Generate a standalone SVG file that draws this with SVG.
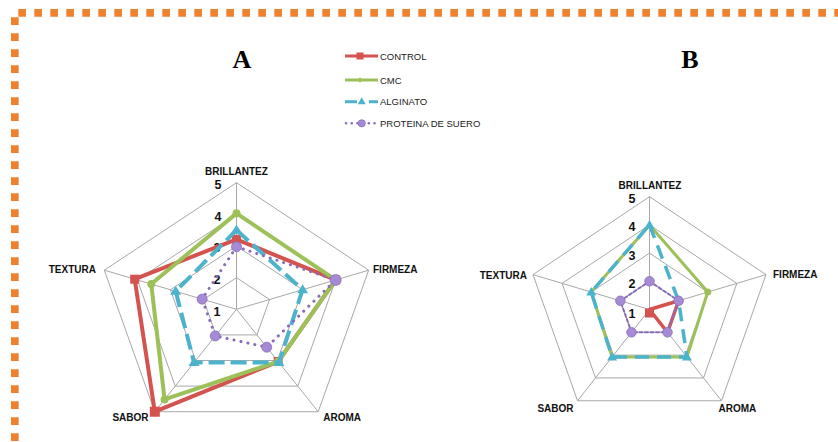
<svg xmlns="http://www.w3.org/2000/svg" width="838" height="442" viewBox="0 0 838 442">
<style>
.grid{fill:none;stroke:#A8A8A8;stroke-width:1}
.ax{font-family:"Liberation Sans",Arial,sans-serif;font-weight:bold;font-size:10px;fill:#111}
.num{font-family:"Liberation Sans",Arial,sans-serif;font-weight:bold;font-size:12.5px;fill:#111;text-anchor:middle}
.leg{font-family:"Liberation Sans",Arial,sans-serif;font-size:9.5px;fill:#222}
.ttl{font-family:"Liberation Serif","Times New Roman",serif;font-weight:bold;font-size:26px;fill:#000;text-anchor:middle}
.red{fill:none;stroke:#D5534E;stroke-linejoin:round}
.grn{fill:none;stroke:#9CC158;stroke-linejoin:round}
.cya{fill:none;stroke:#4BB4CC}
.pur{fill:none;stroke:#8A6DB8;stroke-linecap:round}
.mr{fill:#D5534E}
.mg{fill:#9CC158}
.mc{fill:#4BB4CC}
.mp{fill:#A58AD6;stroke:#8A6DB8;stroke-width:0.8}
</style>
<g id="border" fill="none" stroke="#F0812F" stroke-width="7.7">
<line x1="18.3" y1="12.8" x2="838" y2="12.8" stroke-dasharray="7.7 8.3"/>
<line x1="14.8" y1="17.3" x2="14.8" y2="442" stroke-dasharray="7.7 8.3"/>
</g>
<g id="titles">
<text class="ttl" x="242" y="68">A</text>
<text class="ttl" x="690" y="68">B</text>
</g>
<g id="legend">
<line x1="345" y1="56" x2="378" y2="56" class="red" stroke-width="3"/>
<rect x="356.5" y="52.5" width="7" height="7" class="mr"/>
<text class="leg" x="380" y="59.5">CONTROL</text>
<line x1="345" y1="80" x2="378" y2="80" class="grn" stroke-width="3"/>
<rect x="358" y="78" width="4" height="4" class="mg" transform="rotate(45 360 80)"/>
<text class="leg" x="380" y="83.5">CMC</text>
<line x1="345" y1="101.7" x2="378" y2="101.7" class="cya" stroke-width="3" stroke-dasharray="12 4 0 8 12"/>
<polygon points="361.7,97.2 365.7,104.2 357.7,104.2" class="mc"/>
<text class="leg" x="380" y="105.2">ALGINATO</text>
<line x1="346" y1="123.3" x2="378" y2="123.3" class="pur" stroke-width="2.5" stroke-dasharray="0.1 5.6"/>
<circle cx="361.7" cy="123.3" r="3.6" class="mp"/>
<text class="leg" x="380" y="126.8">PROTEINA DE SUERO</text>
</g>
<g id="chartA">
<g id="gridA" class="grid">
<polygon points="236.5,182.7 368.7,270.18 318.2,411.72 154.8,411.72 104.3,270.18"/>
<polygon points="236.5,214.35 335.65,279.96 297.78,386.12 175.22,386.12 137.35,279.96"/>
<polygon points="236.5,246 302.6,289.74 277.35,360.51 195.65,360.51 170.4,289.74"/>
<polygon points="236.5,277.65 269.55,299.52 256.93,334.9 216.07,334.9 203.45,299.52"/>
<path d="M236.5,309.3L236.5,182.7M236.5,309.3L368.7,270.18M236.5,309.3L318.2,411.72M236.5,309.3L154.8,411.72M236.5,309.3L104.3,270.18"/>
</g>
<g id="labelsA">
<text class="ax" x="236.5" y="175" text-anchor="middle">BRILLANTEZ</text>
<text class="ax" x="373" y="272.5">FIRMEZA</text>
<text class="ax" x="323.3" y="420.5">AROMA</text>
<text class="ax" x="148.5" y="420.5" text-anchor="end">SABOR</text>
<text class="ax" x="96" y="272.5" text-anchor="end">TEXTURA</text>
<text class="num" x="218" y="189">5</text>
<text class="num" x="218" y="221">4</text>
<text class="num" x="217" y="252">3</text>
<text class="num" x="217" y="284">2</text>
<text class="num" x="217" y="316">1</text>
</g>
<g id="seriesA">
<polygon class="red" stroke-width="4" points="236.5,239.3 335.65,279.96 278.17,361.53 154.8,411.72 134.71,279.18"/>
<g class="mr">
<rect x="232" y="234.8" width="9" height="9"/><rect x="331.15" y="275.46" width="9" height="9"/><rect x="273.67" y="357.03" width="9" height="9"/><rect x="149.8" y="406.72" width="10" height="10"/><rect x="130.21" y="274.68" width="9" height="9"/>
</g>
<polygon class="grn" stroke-width="4" points="236.5,213.34 335.65,279.96 278.17,361.53 164.6,399.43 151.23,284.07"/>
<g class="mg">
<circle cx="236.5" cy="213.34" r="4"/><circle cx="335.65" cy="279.96" r="4"/><circle cx="278.17" cy="361.53" r="4"/><circle cx="164.6" cy="399.43" r="4"/><circle cx="151.23" cy="284.07" r="4"/>
</g>
<polygon class="cya" stroke-width="4" stroke-dasharray="16 6" points="236.5,230.05 302.6,289.74 278.98,362.56 194.02,362.56 175.69,291.3"/>
<g class="mc">
<polygon points="236.5,224.5 242,233.5 231,233.5"/><polygon points="302.6,284.2 308.1,293.2 297.1,293.2"/><polygon points="278.98,357 284.48,366 273.48,366"/><polygon points="194.02,357 199.52,366 188.52,366"/><polygon points="175.69,285.8 181.19,294.8 170.19,294.8"/>
</g>
<polygon class="pur" stroke-width="3" stroke-dasharray="0.1 7" points="236.5,246.76 335.65,279.96 266.73,347.2 215.26,335.93 202.13,299.13"/>
<g class="mp">
<circle cx="236.5" cy="246.76" r="5"/><circle cx="335.65" cy="279.96" r="5.5"/><circle cx="266.73" cy="347.2" r="5"/><circle cx="215.26" cy="335.93" r="5"/><circle cx="202.13" cy="299.13" r="5"/>
</g>
</g>
</g>
<g id="chartB">
<g id="gridB" class="grid">
<polygon points="649.5,196.7 766,274.64 721.5,400.76 577.5,400.76 533,274.64"/>
<polygon points="649.5,224.9 736.88,283.35 703.5,377.95 595.5,377.95 562.12,283.35"/>
<polygon points="649.5,253.1 707.75,292.07 685.5,355.13 613.5,355.13 591.25,292.07"/>
<polygon points="649.5,281.3 678.63,300.78 667.5,332.32 631.5,332.32 620.37,300.78"/>
<path d="M649.5,309.5L649.5,196.7M649.5,309.5L766,274.64M649.5,309.5L721.5,400.76M649.5,309.5L577.5,400.76M649.5,309.5L533,274.64"/>
</g>
<g id="labelsB">
<text class="ax" x="650" y="189" text-anchor="middle">BRILLANTEZ</text>
<text class="ax" x="773" y="278">FIRMEZA</text>
<text class="ax" x="718.5" y="412">AROMA</text>
<text class="ax" x="573.5" y="412" text-anchor="end">SABOR</text>
<text class="ax" x="527" y="279" text-anchor="end">TEXTURA</text>
<text class="num" x="632" y="203">5</text>
<text class="num" x="632" y="231">4</text>
<text class="num" x="632" y="259.5">3</text>
<text class="num" x="632" y="288">2</text>
<text class="num" x="632" y="318">1</text>
</g>
<g id="seriesB">
<polygon class="red" stroke-width="3.5" points="649.5,309.5 678.63,300.78 667.5,332.32 649.5,309.5 649.5,309.5"/>
<rect x="645" y="308.5" width="9" height="9" class="mr"/>
<polygon class="grn" stroke-width="3" points="649.5,224.9 707.75,292.07 686.94,356.96 612.06,356.96 591.25,292.07"/>
<g class="mg">
<circle cx="707.75" cy="292.07" r="3.5"/>
</g>
<polygon class="cya" stroke-width="3.5" stroke-dasharray="14 8" points="649.5,224.9 678.63,300.78 686.94,356.96 612.06,356.96 591.25,292.07"/>
<g class="mc">
<polygon points="649.5,219.9 654.5,228.4 644.5,228.4"/><polygon points="686.94,352 691.94,360.5 681.94,360.5"/><polygon points="612.06,352 617.06,360.5 607.06,360.5"/><polygon points="591.25,287.1 596.25,295.6 586.25,295.6"/>
</g>
<polygon class="pur" stroke-width="2" stroke-dasharray="3 2.5" stroke-linecap="butt" points="649.5,281.3 678.63,300.78 667.5,332.32 631.5,332.32 620.37,300.78"/>
<g class="mp">
<circle cx="649.5" cy="281.3" r="4.8"/><circle cx="678.63" cy="300.78" r="4.8"/><circle cx="667.5" cy="332.32" r="4.8"/><circle cx="631.5" cy="332.32" r="4.8"/><circle cx="620.37" cy="300.78" r="4.8"/>
</g>
</g>
</g>
</svg>
